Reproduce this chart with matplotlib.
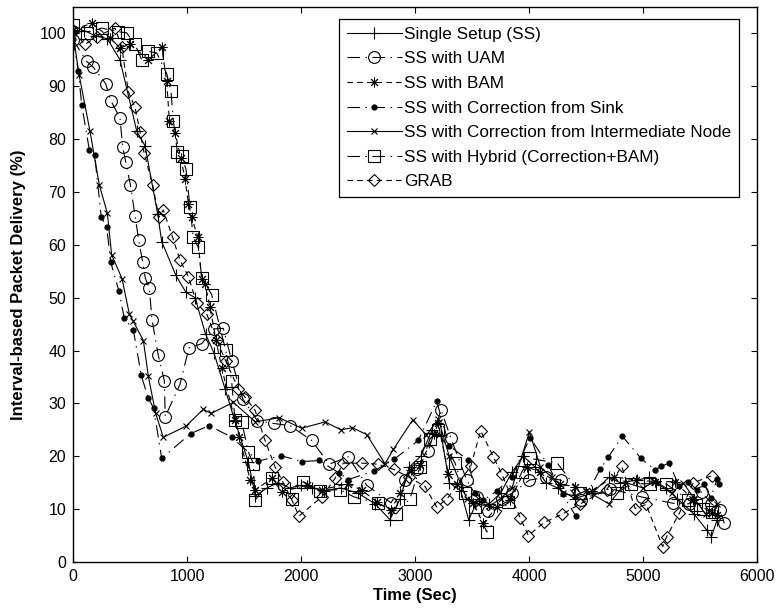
import matplotlib
matplotlib.use("Agg")
import matplotlib.pyplot as plt

plt.rcParams['font.family'] = ['Liberation Sans', 'DejaVu Sans']
plt.rcParams['lines.scale_dashes'] = False

# ---- data (time in sec, delivery in %) ----
ss_t = [0, 100, 200, 300, 412, 559, 632, 743, 778, 903, 991, 1070, 1163, 1237, 1333, 1421,
        1538, 1600, 1700, 1800, 1900, 2000, 2100, 2200, 2350, 2500, 2650, 2780, 2870, 2950,
        3050, 3150, 3230, 3300, 3400, 3470, 3560, 3650, 3750, 3850, 3950, 4050, 4150, 4250,
        4400, 4550, 4700, 4800, 4950, 5050, 5200, 5300, 5450, 5560, 5600, 5650]
ss_y = [100, 100.5, 99.5, 99, 95, 81.5, 78.7, 65.8, 60.6, 54.2, 51, 50, 43.1, 39.5, 32.8, 26.6,
        18.9, 12.5, 14, 15, 14, 14.5, 14, 13.5, 14, 13, 11, 8, 12, 18,
        20, 25, 24, 15, 13.5, 8, 12, 11, 13, 17, 20, 18, 15, 14,
        12, 13, 16, 15, 15.5, 16, 14, 12, 9, 6, 4.8, 8]

uam_t = [0, 120, 178, 286, 331, 412, 436, 462, 503, 544, 576, 611, 634, 669, 693, 748, 801, 809,
         938, 1017, 1129, 1237, 1318, 1392, 1488, 1617, 1763, 1903, 2093, 2248, 2415, 2576, 2789,
         2912, 3020, 3117, 3228, 3313, 3453, 3541, 3643, 3760, 3850, 4003, 4150, 4278, 4453,
         4711, 4988, 5266, 5400, 5515, 5600, 5675, 5713]
uam_y = [98.8, 94.7, 93.6, 90.5, 87.3, 84, 78.5, 75.7, 71.4, 65.5, 60.9, 56.7, 53.7, 51.8, 45.8,
         39.1, 34.3, 27.5, 33.6, 40.5, 41.3, 44.1, 44.2, 38.1, 30.9, 26.7, 26.2, 25.8, 23, 18.5,
         19.9, 14.5, 11.2, 15.5, 17.5, 21, 28.8, 23.5, 15.5, 12.3, 9.7, 12, 13, 15.5, 16, 15.5,
         11.7, 13.9, 12.3, 11.1, 11, 13.3, 11, 9.8, 7.3]

bam_t = [0, 164, 324, 412, 500, 661, 778, 822, 845, 895, 945, 983, 1012, 1041, 1094, 1129, 1158,
         1202, 1254, 1304, 1421, 1459, 1553, 1597, 1743, 1831, 2050, 2182, 2415, 2532, 2664,
         2787, 2868, 2962, 3044, 3167, 3204, 3292, 3365, 3511, 3599, 3716, 3833, 3980, 4100,
         4272, 4404, 4550, 4746, 4939, 5105, 5281, 5441, 5602, 5646]
bam_y = [100.7, 101.9, 99.2, 97.2, 98, 95, 97.4, 90.9, 83.5, 81.2, 76.5, 72.4, 67.8, 65.2, 61.5,
         53.5, 52.6, 48.2, 42, 36.7, 26.8, 23.6, 15.6, 13.6, 15.8, 13.3, 14.5, 13.7, 14.8, 13.6,
         11.4, 9.8, 13, 17.4, 18.3, 24.2, 26.2, 16.7, 14.8, 11.1, 7.3, 10.4, 11.7, 18, 17,
         14.8, 14.2, 13.5, 16.1, 15.5, 15.2, 15.2, 11.7, 9.2, 8.9]

sink_t = [0, 47, 76, 143, 190, 248, 295, 331, 403, 450, 529, 599, 658, 707, 778, 1032, 1195, 1391,
          1625, 1824, 2011, 2160, 2335, 2415, 2640, 2815, 3029, 3190, 3300, 3468, 3526, 3599,
          3716, 3848, 4009, 4169, 4295, 4409, 4622, 4694, 4818, 4982, 5105, 5158, 5228, 5316,
          5392, 5471, 5535, 5594, 5649, 5669]
sink_y = [99, 92.8, 86.5, 78, 77, 65.2, 63.4, 56.7, 51.2, 46.1, 43.9, 35.3, 31.1, 29.1, 19.6, 24.3,
          25.8, 23.6, 19.1, 20.1, 19, 19.2, 16.8, 15.6, 17.2, 19.4, 23, 30.4, 22, 19.2, 13.1,
          11.7, 13.4, 16.1, 23.5, 18.3, 12.8, 8.7, 17.5, 19.8, 23.8, 19.6, 17.4, 18.1, 18.7,
          14.4, 15.2, 13.7, 14.8, 12.1, 15.7, 14.7]

inter_t = [0, 53, 149, 231, 301, 339, 430, 494, 529, 617, 661, 725, 792, 991, 1143, 1211, 1406,
           1600, 1807, 2005, 2211, 2351, 2450, 2576, 2737, 2810, 2980, 3100, 3204, 3300, 3453,
           3550, 3650, 3750, 3850, 4003, 4100, 4200, 4300, 4400, 4500, 4700, 4850, 5000, 5100,
           5250, 5350, 5450, 5550, 5650]
inter_y = [100, 92.2, 81.5, 71.3, 66, 58.1, 53.6, 46.9, 45.5, 41.9, 35.1, 28.1, 23.6, 25.7, 28.9,
           28.1, 30.2, 26.5, 27.3, 25.3, 26.5, 25, 25.4, 24.1, 18.6, 21.3, 26.9, 24, 27, 20, 12,
           11, 10.5, 12, 14, 24.6, 18, 16, 13, 12.5, 13.5, 11, 15, 14, 15.2,
           13, 15, 12, 9, 11]

hyb_t = [0, 120, 252, 397, 471, 544, 602, 661, 734, 822, 859, 880, 915, 953, 991, 1026, 1055,
         1099, 1129, 1216, 1339, 1391, 1421, 1480, 1538, 1582, 1597, 1743, 1918, 2020, 2166,
         2342, 2465, 2678, 2833, 2956, 3044, 3132, 3200, 3351, 3439, 3526, 3629, 3819, 3936,
         4009, 4248, 4447, 4769, 4892, 5061, 5200, 5397, 5465, 5529, 5602]
hyb_y = [101.6, 100.1, 101, 100.3, 100.1, 97.9, 95, 96.6, 96.3, 92.4, 89.1, 83.5, 77.6, 76.8,
         74.3, 67.1, 61.4, 59.5, 53.8, 50.6, 40.1, 34.3, 26.8, 26.5, 20.8, 18.6, 11.7, 15.8,
         11.9, 15.2, 13.5, 13.7, 12.3, 11.1, 9.1, 12, 18, 23.3, 25, 18.7, 13, 10.4, 5.7, 11.4,
         17, 19.6, 18.7, 13.1, 13, 14.8, 14.8, 14.8, 11.8, 10.8, 10.1, 9.5]

grab_t = [0, 105, 208, 368, 427, 485, 544, 588, 623, 699, 754, 792, 874, 938, 1012, 1085, 1173,
          1260, 1340, 1450, 1509, 1597, 1684, 1772, 1839, 1918, 1982, 2182, 2298, 2371, 2537,
          2678, 2815, 2950, 3087, 3190, 3283, 3488, 3576, 3687, 3760, 3921, 3994, 4134, 4287,
          4450, 4681, 4813, 4930, 5026, 5172, 5207, 5318, 5441, 5602]
grab_y = [100.4, 97.9, 99.4, 101, 97.5, 89, 86, 81.4, 77.4, 71.3, 65.2, 66.6, 61.4, 57.1, 54, 49,
          46.9, 42, 38, 32.8, 31.2, 28.7, 23, 18, 15.2, 11.8, 8.7, 12.3, 15.8, 18.7, 18.7,
          18.5, 17.5, 16, 14.3, 10.4, 12, 18.1, 24.8, 19.9, 16.7, 8.4, 5, 7.5, 9,
          11, 13.7, 18.1, 10.1, 10.9, 2.9, 4.8, 9.2, 15, 16.3]

labels = ['Single Setup (SS)', 'SS with UAM', 'SS with BAM', 'SS with Correction from Sink',
          'SS with Correction from Intermediate Node', 'SS with Hybrid (Correction+BAM)', 'GRAB']

dashed = (0, (4, 3))
dashdot = (0, (9, 4, 1, 4))
asterisk = (8, 2, 0)

fig = plt.figure(figsize=(7.8, 6.14), dpi=100)
ax = fig.add_axes([0.0936, 0.0847, 0.877, 0.904])

kw = dict(color='black', lw=0.8, mfc='none', mec='black', mew=0.8)
ax.plot(ss_t, ss_y, ls='-', marker='+', ms=9, label=labels[0], **kw)
ax.plot(uam_t, uam_y, ls=dashdot, marker='o', ms=8.5, label=labels[1], **kw)
ax.plot(bam_t, bam_y, ls=dashed, marker=asterisk, ms=7, label=labels[2],
        color='black', lw=0.8, mec='black', mew=0.7)
ax.plot(sink_t, sink_y, ls=dashdot, marker='o', ms=3.5, color='black', lw=0.8,
        mfc='black', mec='black', label=labels[3])
ax.plot(inter_t, inter_y, ls='-', marker='x', ms=5, label=labels[4], **kw)
ax.plot(hyb_t, hyb_y, ls=dashdot, marker='s', ms=8.5, label=labels[5], **kw)
ax.plot(grab_t, grab_y, ls=dashed, marker='D', ms=6.5, label=labels[6], **kw)

ax.set_xlim(0, 6000)
ax.set_ylim(0, 105)
ax.set_xticks(range(0, 6001, 1000))
ax.set_yticks(range(0, 101, 10))
ax.tick_params(direction='in', top=True, right=True, length=4, labelsize=11.5, width=0.8, pad=5)
for s in ax.spines.values():
    s.set_linewidth(1.0)

ax.set_xlabel('Time (Sec)', fontsize=12, fontweight='bold', labelpad=3)
ax.set_ylabel('Interval-based Packet Delivery (%)', fontsize=12, fontweight='bold', labelpad=10)

leg = ax.legend(loc='upper right', bbox_to_anchor=(0.974, 0.978), fontsize=12.3, numpoints=1,
                handlelength=3.2, handletextpad=0.15, labelspacing=0.56, borderpad=0.45,
                fancybox=False, framealpha=1, edgecolor='black', borderaxespad=0)
leg.get_frame().set_linewidth(0.9)

fig.savefig('out.png', dpi=100)
